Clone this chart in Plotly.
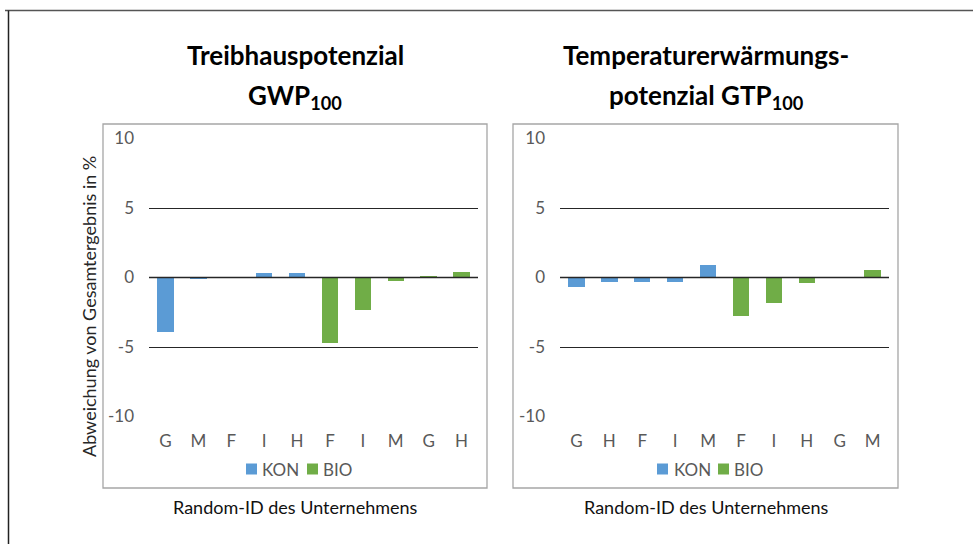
import plotly.graph_objects as go

W, H = 973, 544

# ---- data ----
categories_gwp = ["G", "M", "F", "I", "H", "F", "I", "M", "G", "H"]
kon_gwp = [-3.9, -0.05, 0.05, 0.35, 0.35]
bio_gwp = [-4.7, -2.3, -0.2, 0.15, 0.45]

categories_gtp = ["G", "H", "F", "I", "M", "F", "I", "H", "G", "M"]
kon_gtp = [-0.65, -0.3, -0.27, -0.27, 0.96]
bio_gtp = [-2.72, -1.78, -0.34, 0.05, 0.55]

y_ticks = [-10, -5, 0, 5, 10]
y_tick_labels = ["-10", "-5", "0", "5", "10"]
series_names = ["KON", "BIO"]
titles_gwp = ["Treibhauspotenzial", "GWP<sub>100</sub>"]
titles_gtp = ["Temperaturerwärmungs-", "potenzial GTP<sub>100</sub>"]
y_title = "Abweichung von Gesamtergebnis in %"
x_title = "Random-ID des Unternehmens"

# ---- style ----
FONT = "Lato"
C_KON = "#5B9BD5"
C_BIO = "#70AD47"
GRID = "#262626"
TICK = "#595959"


def px(x):
    return x / W


def py(y):
    return 1 - y / H


fig = go.Figure()

panels = [
    (categories_gwp, kon_gwp, bio_gwp, "x", "y", (149, 478)),
    (categories_gtp, kon_gtp, bio_gtp, "x2", "y2", (560, 889)),
]

for cats, kon, bio, xa, ya, _ in panels:
    n_k = len(kon)
    fig.add_trace(go.Bar(x=list(range(n_k)), y=kon, name=series_names[0],
                         marker=dict(color=C_KON, line=dict(width=0)), width=0.5,
                         xaxis=xa, yaxis=ya, showlegend=False))
    fig.add_trace(go.Bar(x=list(range(n_k, n_k + len(bio))), y=bio, name=series_names[1],
                         marker=dict(color=C_BIO, line=dict(width=0)), width=0.5,
                         xaxis=xa, yaxis=ya, showlegend=False))

ydom = [py(416.5), py(138.5)]
axis_common_y = dict(range=[-10, 10], tickvals=y_ticks, ticktext=y_tick_labels,
                     showgrid=True, gridcolor=GRID,
                     gridwidth=1, zeroline=False, showline=False, ticks="",
                     tickfont=dict(family=FONT, size=17, color=TICK), ticklabelstandoff=14,
                     automargin=False, fixedrange=True)
layout_axes = {}
for i, (cats, kon, bio, xa, ya, (x0, x1)) in enumerate(panels):
    sx = "" if i == 0 else "2"
    layout_axes["xaxis" + sx] = dict(domain=[px(x0), px(x1)], range=[-0.5, len(cats) - 0.5],
                                     tickvals=list(range(len(cats))), ticktext=cats,
                                     showgrid=False, zeroline=False, showline=False, ticks="",
                                     tickfont=dict(family=FONT, size=17, color=TICK),
                                     ticklabelstandoff=12, anchor="y" + sx, automargin=False,
                                     fixedrange=True)
    layout_axes["yaxis" + sx] = dict(domain=ydom, anchor="x" + sx, **axis_common_y)

fig.update_layout(**layout_axes)

shapes = []
# panel frames
for (bx0, bx1) in [(103, 487), (513, 898)]:
    shapes.append(dict(type="rect", xref="paper", yref="paper", x0=px(bx0), x1=px(bx1),
                       y0=py(488), y1=py(124), line=dict(color="#A6A6A6", width=1.3),
                       fillcolor="rgba(0,0,0,0)", layer="below"))
# outer frame (top and left)
shapes.append(dict(type="line", xref="paper", yref="paper", x0=px(5), x1=1.0,
                   y0=py(10.5), y1=py(10.5), line=dict(color="#555555", width=1.5)))
shapes.append(dict(type="line", xref="paper", yref="paper", x0=px(8.5), x1=px(8.5),
                   y0=0, y1=py(10.5), line=dict(color="#222222", width=1.5)))
# category axis line at zero, drawn above bars
for xa, ya in [("x", "y"), ("x2", "y2")]:
    shapes.append(dict(type="line", xref=xa + " domain", yref=ya, x0=0, x1=1, y0=0, y1=0,
                       line=dict(color=GRID, width=1.3), layer="above"))

annotations = []
for (cx, lines) in [(295, titles_gwp), (706, titles_gtp)]:
    for (yy, t) in zip([55, 96], lines):
        annotations.append(dict(x=px(cx), y=py(yy), xref="paper", yref="paper",
                                text="<b>" + t + "</b>", showarrow=False,
                                xanchor="center", yanchor="middle",
                                font=dict(family=FONT, size=26, color="#000000")))
for cx in [295, 706]:
    annotations.append(dict(x=px(cx), y=py(507), xref="paper", yref="paper", text=x_title,
                            showarrow=False, xanchor="center", yanchor="middle",
                            font=dict(family=FONT, size=18, color="#111111")))
annotations.append(dict(x=px(89), y=py(307), xref="paper", yref="paper", text=y_title,
                        showarrow=False, textangle=-90, xanchor="center", yanchor="middle",
                        font=dict(family=FONT, size=18, color="#262626")))

# legends (swatch + label) for each panel
legend_items = [
    [(246, C_KON, 260, series_names[0]), (307, C_BIO, 321, series_names[1])],
    [(657, C_KON, 672, series_names[0]), (718, C_BIO, 732, series_names[1])],
]
for items in legend_items:
    for sx0, col, tx, label in items:
        shapes.append(dict(type="rect", xref="paper", yref="paper", x0=px(sx0), x1=px(sx0 + 11),
                           y0=py(474.5), y1=py(463.5), fillcolor=col, line=dict(width=0)))
        annotations.append(dict(x=px(tx), y=py(469), xref="paper", yref="paper", text=label,
                                showarrow=False, xanchor="left", yanchor="middle",
                                font=dict(family=FONT, size=17, color=TICK)))

fig.update_layout(
    width=W, height=H, margin=dict(l=0, r=0, t=0, b=0, autoexpand=False),
    paper_bgcolor="white", plot_bgcolor="white",
    barmode="overlay", bargap=0, showlegend=False,
    shapes=shapes, annotations=annotations,
    font=dict(family=FONT),
)

post = ("var gd=document.getElementById('{plot_id}');"
        "gd.style.position='fixed';gd.style.top='0px';gd.style.left='0px';"
        "document.body.style.margin='0';"
        "document.documentElement.style.overflow='hidden';"
        "document.body.style.overflow='hidden';")

fig.write_html("out.html", config={"displayModeBar": False}, post_script=post)
